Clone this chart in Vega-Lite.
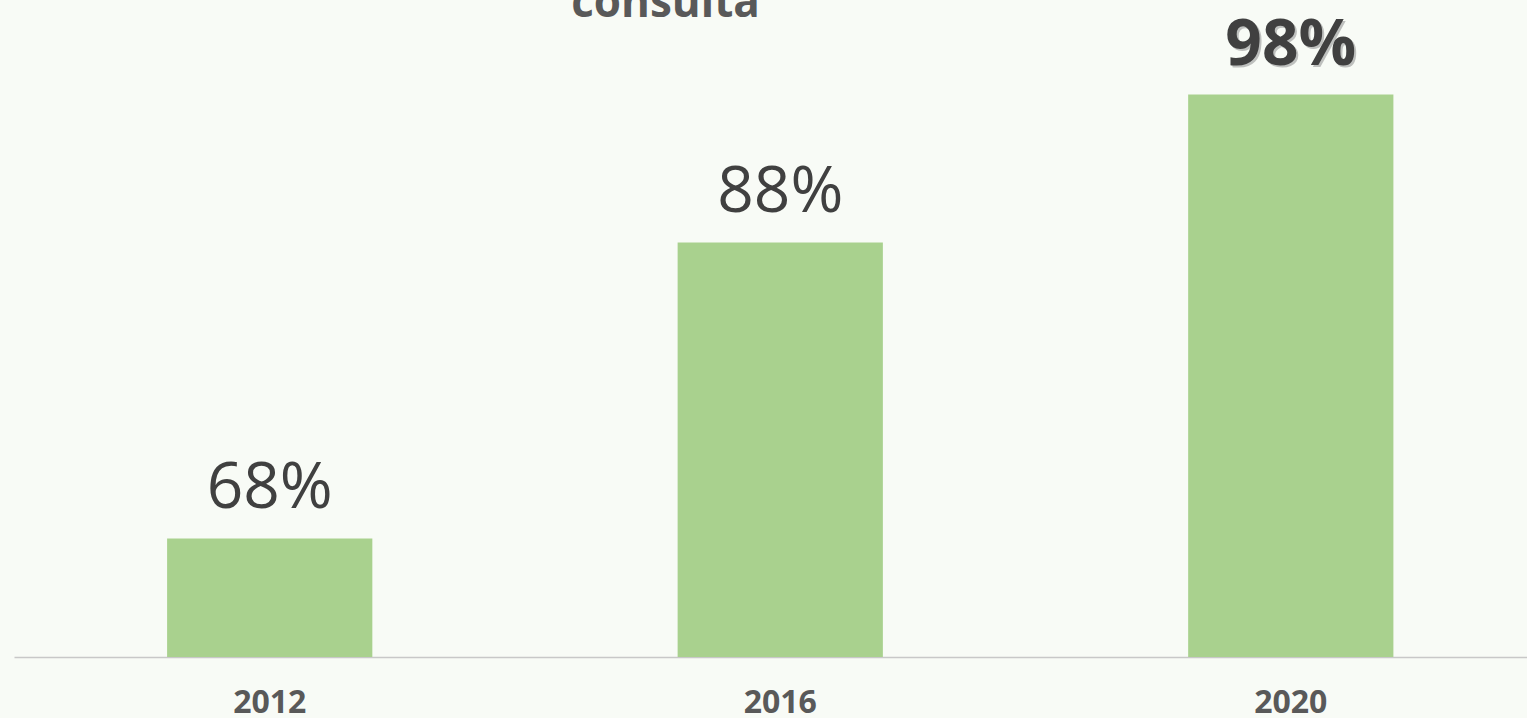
{
  "$schema": "https://vega.github.io/schema/vega-lite/v6.json",
  "width": 1513,
  "height": 592,
  "autosize": {"type": "none"},
  "padding": {"left": 14, "top": 65, "right": 0, "bottom": 61},
  "background": "#F8FBF6",
  "config": {"view": {"stroke": null}},
  "title": {
    "text": "consulta",
    "font": "Open Sans",
    "fontSize": 44,
    "fontWeight": "bold",
    "color": "#595959",
    "anchor": "middle",
    "frame": "group",
    "baseline": "alphabetic",
    "offset": -47,
    "dx": -105
  },
  "data": {
    "values": [
      {"year": "2012", "value": 0.68},
      {"year": "2016", "value": 0.88},
      {"year": "2020", "value": 0.98}
    ]
  },
  "encoding": {
    "x": {
      "field": "year",
      "type": "nominal",
      "scale": {"paddingInner": 0.598, "paddingOuter": 0.2808, "align": 0.534},
      "axis": {
        "title": null,
        "labelAngle": 0,
        "ticks": false,
        "tickSize": 0,
        "labelPadding": 30,
        "labelFont": "Open Sans",
        "labelFontSize": 32,
        "labelFontWeight": "bold",
        "labelColor": "#595959",
        "domainColor": "#C8C8C8",
        "domainWidth": 1.5,
        "grid": false
      }
    },
    "y": {
      "field": "value",
      "type": "quantitative",
      "scale": {"domain": [0.6, 1.0], "nice": false, "zero": false, "clamp": true},
      "axis": null
    }
  },
  "layer": [
    {"mark": {"type": "bar", "color": "#A9D18E", "clip": true}},
    {
      "transform": [{"filter": "datum.year != '2020'"}],
      "mark": {"type": "text", "font": "Open Sans", "fontSize": 64, "color": "#404040", "baseline": "alphabetic", "dy": -31},
      "encoding": {"text": {"field": "value", "type": "quantitative", "format": ".0%"}}
    },
    {
      "transform": [{"filter": "datum.year == '2020'"}],
      "mark": {"type": "text", "font": "Open Sans", "fontSize": 64, "fontWeight": "bold", "color": "#999999", "opacity": 0.6, "baseline": "alphabetic", "dy": -28, "dx": 2},
      "encoding": {"text": {"field": "value", "type": "quantitative", "format": ".0%"}}
    },
    {
      "transform": [{"filter": "datum.year == '2020'"}],
      "mark": {"type": "text", "font": "Open Sans", "fontSize": 64, "fontWeight": "bold", "color": "#404040", "baseline": "alphabetic", "dy": -30},
      "encoding": {"text": {"field": "value", "type": "quantitative", "format": ".0%"}}
    }
  ]
}
